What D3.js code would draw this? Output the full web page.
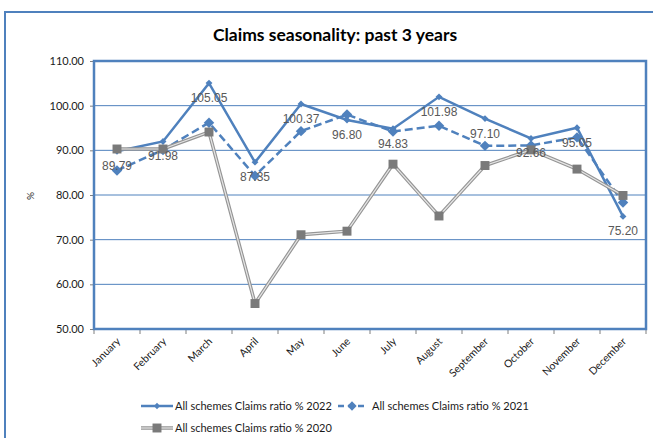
<!DOCTYPE html>
<html>
<head>
<meta charset="utf-8">
<script src="https://cdn.jsdelivr.net/npm/d3@7"></script>
<style>
  html, body { margin: 0; padding: 0; background: #fff; }
  svg { display: block; }
</style>
</head>
<body>
<div id="chart"></div>
<script>
// Chart data
const months = ['January', 'February', 'March', 'April', 'May', 'June',
  'July', 'August', 'September', 'October', 'November', 'December'];
const claims2022 = [89.79, 91.98, 105.05, 87.35, 100.37, 96.80, 94.83, 101.98, 97.10, 92.66, 95.05, 75.20];
const claims2021 = [85.5, 90.1, 96.2, 84.3, 94.3, 98.0, 94.2, 95.5, 91.0, 91.1, 92.9, 78.3];
const claims2020 = [90.3, 90.3, 94.1, 55.7, 71.1, 71.9, 86.9, 75.3, 86.6, 90.1, 85.8, 79.9];
const yTicks = [50, 60, 70, 80, 90, 100, 110];
const seriesNames = ['All schemes Claims ratio % 2022', 'All schemes Claims ratio % 2021', 'All schemes Claims ratio % 2020'];

const width = 653;
const height = 438;
const blue = '#4F81BD';
const font = 'Lato, "Open Sans", sans-serif';
const narrow = '"Liberation Sans Narrow", "Arial Narrow", "Liberation Sans", sans-serif';

const svg = d3.select('#chart')
  .append('svg')
  .attr('width', width)
  .attr('height', height);

// outer chart border
svg.append('rect')
  .attr('x', 5).attr('y', 12)
  .attr('width', width + 10).attr('height', height + 10)
  .attr('fill', '#fff')
  .attr('stroke', blue)
  .attr('stroke-width', 2);

// title
svg.append('text')
  .attr('x', 335).attr('y', 41)
  .attr('text-anchor', 'middle')
  .style('font-family', font)
  .style('font-weight', 'bold')
  .style('font-size', '17.5px')
  .style('fill', '#000')
  .text('Claims seasonality: past 3 years');

const plot = { left: 94, right: 646, top: 61, bottom: 329 };

const x = d3.scaleBand()
  .domain(months)
  .range([plot.left, plot.right]);
const cx = d => x(d) + x.bandwidth() / 2;

const y = d3.scaleLinear()
  .domain([50, 110])
  .range([plot.bottom, plot.top]);

// gridlines
svg.append('g')
  .selectAll('line')
  .data(yTicks)
  .enter()
  .append('line')
  .attr('x1', plot.left).attr('x2', plot.right)
  .attr('y1', d => y(d)).attr('y2', d => y(d))
  .style('stroke', blue)
  .style('stroke-width', 1);

// y axis
const yAxis = svg.append('g')
  .attr('transform', `translate(${plot.left},0)`)
  .call(d3.axisLeft(y).tickValues(yTicks).tickFormat(d3.format('.2f')).tickSize(4).tickPadding(6));
yAxis.select('.domain').remove();
yAxis.selectAll('.tick line').style('stroke', '#7f7f7f');
yAxis.selectAll('text')
  .style('font-family', font)
  .style('font-size', '11px')
  .style('fill', '#1a1a1a');

// x axis ticks at category boundaries
const xAxis = svg.append('g')
  .attr('transform', `translate(0,${plot.bottom})`);
xAxis.selectAll('line')
  .data(d3.range(months.length + 1))
  .enter()
  .append('line')
  .attr('x1', i => plot.left + i * x.bandwidth())
  .attr('x2', i => plot.left + i * x.bandwidth())
  .attr('y1', 0).attr('y2', 5)
  .style('stroke', '#7f7f7f');
xAxis.selectAll('text')
  .data(months)
  .enter()
  .append('text')
  .attr('transform', d => `translate(${cx(d) + 4},${13}) rotate(-45)`)
  .attr('text-anchor', 'end')
  .style('font-family', font)
  .style('font-size', '10.5px')
  .style('fill', '#1a1a1a')
  .text(d => d);

// plot area border
svg.append('rect')
  .attr('x', plot.left).attr('y', plot.top)
  .attr('width', plot.right - plot.left)
  .attr('height', plot.bottom - plot.top)
  .attr('fill', 'none')
  .style('stroke', blue)
  .style('stroke-width', 2.5);

// % label
svg.append('text')
  .attr('transform', 'translate(34,196) rotate(-90)')
  .attr('text-anchor', 'middle')
  .style('font-family', font)
  .style('font-size', '10px')
  .style('fill', '#1a1a1a')
  .text('%');

const line = d3.line()
  .x((d, i) => cx(months[i]))
  .y(d => y(d));

const diamond = (s) => d3.symbol().type(d3.symbolDiamond2).size(s);
const square = d3.symbol().type(d3.symbolSquare).size(80);

// 2022 solid
svg.append('path')
  .datum(claims2022)
  .attr('d', line)
  .attr('fill', 'none')
  .style('stroke', blue)
  .style('stroke-width', 2.5);
svg.append('g')
  .selectAll('path')
  .data(claims2022)
  .enter()
  .append('path')
  .attr('d', diamond(30))
  .attr('transform', (d, i) => `translate(${cx(months[i])},${y(d)})`)
  .style('fill', blue);

// 2021 dashed
svg.append('path')
  .datum(claims2021)
  .attr('d', line)
  .attr('fill', 'none')
  .style('stroke', blue)
  .style('stroke-width', 2.5)
  .style('stroke-dasharray', '8,4');
svg.append('g')
  .selectAll('path')
  .data(claims2021)
  .enter()
  .append('path')
  .attr('d', diamond(70))
  .attr('transform', (d, i) => `translate(${cx(months[i])},${y(d)})`)
  .style('fill', blue);

// 2020 grey double line
svg.append('path')
  .datum(claims2020)
  .attr('d', line)
  .attr('fill', 'none')
  .style('stroke', '#959595')
  .style('stroke-width', 3.5);
svg.append('path')
  .datum(claims2020)
  .attr('d', line)
  .attr('fill', 'none')
  .style('stroke', '#e6e6e6')
  .style('stroke-width', 1.2);
svg.append('g')
  .selectAll('path')
  .data(claims2020)
  .enter()
  .append('path')
  .attr('d', square)
  .attr('transform', (d, i) => `translate(${cx(months[i])},${y(d)})`)
  .style('fill', '#7a7a7a');

// data labels for 2022
svg.append('g')
  .selectAll('text')
  .data(claims2022)
  .enter()
  .append('text')
  .attr('x', (d, i) => cx(months[i]))
  .attr('y', d => y(d) + 19)
  .attr('text-anchor', 'middle')
  .style('font-family', narrow)
  .style('font-size', '12px')
  .style('fill', '#595959')
  .text(d => d3.format('.2f')(d));

// legend
const legend = svg.append('g')
  .style('font-family', font)
  .style('font-size', '11px')
  .style('fill', '#1a1a1a');

function legendItem(x0, y0, text, kind) {
  const g = legend.append('g').attr('transform', `translate(${x0},${y0})`);
  if (kind === 'solid') {
    g.append('line').attr('x1', 0).attr('x2', 32).attr('y1', 0).attr('y2', 0)
      .style('stroke', blue).style('stroke-width', 2.5);
    g.append('path').attr('d', diamond(25)).attr('transform', 'translate(16,0)').style('fill', blue);
  } else if (kind === 'dashed') {
    g.append('line').attr('x1', 0).attr('x2', 28).attr('y1', 0).attr('y2', 0)
      .style('stroke', blue).style('stroke-width', 2.5).style('stroke-dasharray', '6,4');
    g.append('path').attr('d', diamond(55)).attr('transform', 'translate(14,0)').style('fill', blue);
  } else {
    g.append('line').attr('x1', 0).attr('x2', 32).attr('y1', 0).attr('y2', 0)
      .style('stroke', '#959595').style('stroke-width', 3.5);
    g.append('line').attr('x1', 0).attr('x2', 32).attr('y1', 0).attr('y2', 0)
      .style('stroke', '#e6e6e6').style('stroke-width', 1.2);
    g.append('path').attr('d', square).attr('transform', 'translate(16,0)').style('fill', '#7a7a7a');
  }
  g.append('text')
    .attr('x', 34)
    .attr('y', 4)
    .text(text);
}

legendItem(141, 406, seriesNames[0], 'solid');
legendItem(338, 406, seriesNames[1], 'dashed');
legendItem(141, 428, seriesNames[2], 'grey');
</script>
</body>
</html>
